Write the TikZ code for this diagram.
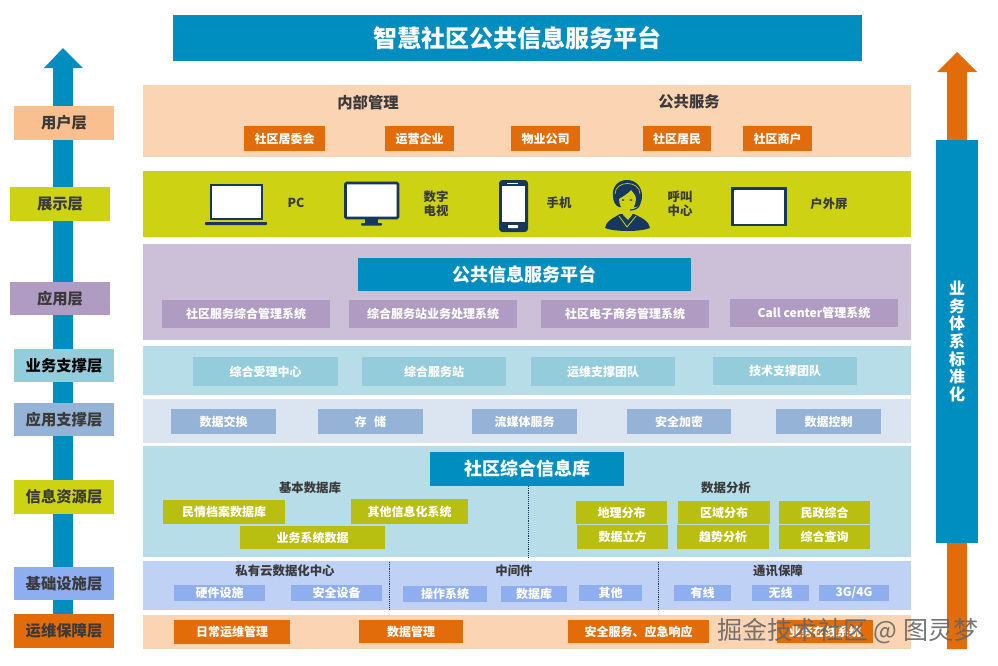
\documentclass[tikz,border=0pt]{standalone}
\usepackage{fontspec}
\setmainfont{Noto Sans CJK SC}
\usepackage{tikz}
\definecolor{titleblue}{HTML}{008DC0}
\definecolor{orangebox}{HTML}{E36C0A}
\definecolor{peachband}{HTML}{FBD4B4}
\definecolor{peachtag}{HTML}{FABF8F}
\definecolor{limeband}{HTML}{CDD313}
\definecolor{limebox}{HTML}{B8BF10}
\definecolor{lilacband}{HTML}{CCC0D9}
\definecolor{lilacbox}{HTML}{B09CC3}
\definecolor{tealband}{HTML}{B7DEE8}
\definecolor{tealbox}{HTML}{94CCDC}
\definecolor{paleband}{HTML}{DBE5F1}
\definecolor{steelbox}{HTML}{95B3D7}
\definecolor{skyband}{HTML}{C0D1F6}
\definecolor{skybox}{HTML}{8FAEF0}
\definecolor{navy}{HTML}{17375E}
\definecolor{inktext}{HTML}{3A3A3A}
\newcommand{\bx}[7][]{\node[#2,minimum width=#5*0.75pt-#4*0.75pt,minimum height=#7*0.75pt-#6*0.75pt,#1] at ({(#4+#5)/2},{(#6+#7)/2}) {#3};}
\begin{document}
\begin{tikzpicture}[
        x=0.75pt,y=-0.75pt,
        band/.style={draw=none,inner sep=0pt,outer sep=0pt},
        tag/.style={band,font=\bfseries\fontsize{11.5pt}{12pt}\selectfont,text=inktext},
        sub/.style={band,font=\bfseries\fontsize{9pt}{10pt}\selectfont,text=white},
        head/.style={inner sep=0pt,font=\bfseries\fontsize{9.3pt}{10pt}\selectfont,text=inktext},
        icon/.style={inner sep=0pt,font=\bfseries\fontsize{9.3pt}{10.5pt}\selectfont,text=inktext},
        sep/.style={densely dotted,draw=navy,thin},
        screen/.style={draw=navy,line width=1.9pt,fill=white}
      ]
      \useasboundingbox (0,0) rectangle (998,665);
      % Rising arrows
      \fill[titleblue] (53,614) -- (53,68) -- (44,68) -- (63,48) -- (83,68) -- (73,68) -- (73,614) -- cycle;
      \fill[orangebox] (947,649) -- (947,72) -- (937,72) -- (957,52) -- (977,72) -- (967,72) -- (967,649) -- cycle;
      % Title
      \bx[font=\bfseries\fontsize{18pt}{19pt}\selectfont,text=white]{band,fill=titleblue}{智慧社区公共信息服务平台}{173}{862}{15}{61}
      % Layer names
      \bx{tag,fill=peachtag}{用户层}{14}{114}{106}{140}
      \bx{tag,fill=limeband}{展示层}{10}{110}{187}{221}
      \bx{tag,fill=lilacbox}{应用层}{10}{110}{282}{315}
      \bx[text=black]{tag,fill=tealbox}{业务支撑层}{14}{114}{349}{382}
      \bx{tag,fill=steelbox}{应用支撑层}{14}{114}{403}{436}
      \bx{tag,fill=limeband}{信息资源层}{14}{114}{480}{514}
      \bx{tag,fill=skybox}{基础设施层}{14}{114}{567}{600}
      \bx{tag,fill=orangebox}{运维保障层}{14}{114}{614}{648}
      % Bands
      \bx{band,fill=peachband}{}{143}{911}{85}{157}
      \bx{band,fill=limeband}{}{143}{911}{171}{237}
      \bx{band,fill=lilacband}{}{143}{911}{244}{340}
      \bx{band,fill=tealband}{}{143}{911}{346}{395}
      \bx{band,fill=paleband}{}{143}{911}{399}{443}
      \bx{band,fill=tealband}{}{143}{911}{446}{557}
      \bx{band,fill=skyband}{}{143}{911}{561}{610}
      \bx{band,fill=peachband}{}{143}{911}{615}{649}
      % User layer
      \node[head,font=\bfseries\fontsize{11.5pt}{12pt}\selectfont] at (368,103) {内部管理};
      \node[head,font=\bfseries\fontsize{11.5pt}{12pt}\selectfont] at (689,102) {公共服务};
      \bx{sub,fill=orangebox}{社区居委会}{244}{325}{126}{151}
      \bx{sub,fill=orangebox}{运营企业}{385}{454}{126}{151}
      \bx{sub,fill=orangebox}{物业公司}{511}{580}{126}{151}
      \bx{sub,fill=orangebox}{社区居民}{643}{711}{126}{151}
      \bx{sub,fill=orangebox}{社区商户}{743}{812}{126}{151}
      % Display layer icons
      \draw[screen] (211,185) rectangle (262,219);
      \fill[navy,rounded corners=0.6pt] (205,222) rectangle (267,225);
      \draw[screen,rounded corners=0.8pt] (345.5,183) rectangle (398,218);
      \fill[navy] (365,219) rectangle (378,223);
      \fill[navy,rounded corners=0.6pt] (361,223) rectangle (382,225.5);
      \fill[navy,rounded corners=2.5pt] (499,180) rectangle (528,232);
      \fill[white] (502,186) rectangle (525,222);
      \fill[white,rounded corners=0.5pt] (508,225) rectangle (518,228);
      \fill[white] (507,183) rectangle (518,184);
      % Operator figure
      \fill[navy] (605,228) .. controls (606,221) and (613,218) .. (620,214) -- (634,214) .. controls (642,218) and (649,221) .. (650,228) .. controls (640,232) and (615,232) .. (605,228) -- cycle;
      \fill[navy] (627,180) .. controls (617,180) and (612,188) .. (613,196) .. controls (613,202) and (616,206) .. (619,207) -- (636,207) .. controls (640,205) and (642,202) .. (642,196) .. controls (642,188) and (637,180) .. (627,180) -- cycle;
      \fill[limeband] (619,199) .. controls (622,197) and (628,194) .. (631,190) .. controls (633,193) and (636,195) .. (636,199) .. controls (636,206) and (631,212) .. (627.5,212) .. controls (623,212) and (619,206) .. (619,199) -- cycle;
      \fill[limeband] (623,209) -- (623,215) -- (628,220) -- (632,215) -- (632,209) -- cycle;
      \draw[limeband,line width=0.5pt] (615,194) .. controls (615,180) and (640,180) .. (640,194);
      \fill[navy] (623,200) ellipse (1.6 and 0.8);
      \fill[navy] (631,200) ellipse (1.6 and 0.8);
      \draw[navy,line width=0.9pt] (640,203) .. controls (639,208) and (635,210) .. (630,210);
      \draw[limeband,line width=0.6pt] (619,216) -- (627,227) -- (636,216);
      \draw[screen] (732.5,188.5) rectangle (785.5,225);
      \node[icon] at (296,203) {PC};
      \node[icon,align=center] at (436,204) {数字\\电视};
      \node[icon] at (559,203) {手机};
      \node[icon,align=center] at (680,204) {呼叫\\中心};
      \node[icon] at (829,204) {户外屏};
      % Application layer
      \bx[font=\bfseries\fontsize{13.5pt}{14pt}\selectfont,text=white]{band,fill=titleblue}{公共信息服务平台}{358}{691}{258}{291}
      \bx{sub,fill=lilacbox}{社区服务综合管理系统}{162}{330}{300}{328}
      \bx{sub,fill=lilacbox}{综合服务站业务处理系统}{349}{517}{300}{328}
      \bx{sub,fill=lilacbox}{社区电子商务管理系统}{541}{709}{300}{328}
      \bx{sub,fill=lilacbox}{Call center管理系统}{730}{898}{299}{327}
      % Business support layer
      \bx{sub,fill=tealbox}{综合受理中心}{193}{338}{357}{386}
      \bx{sub,fill=tealbox}{综合服务站}{362}{506}{357}{386}
      \bx{sub,fill=tealbox}{运维支撑团队}{531}{675}{357}{386}
      \bx{sub,fill=tealbox}{技术支撑团队}{713}{857}{357}{385}
      % Application support layer
      \bx{sub,fill=steelbox}{数据交换}{171}{276}{409}{434}
      \bx{sub,fill=steelbox}{存\hspace{0.6em}储}{318}{423}{409}{434}
      \bx{sub,fill=steelbox}{流媒体服务}{472}{577}{409}{434}
      \bx{sub,fill=steelbox}{安全加密}{627}{731}{409}{434}
      \bx{sub,fill=steelbox}{数据控制}{776}{881}{409}{434}
      % Information resources layer
      \bx[font=\bfseries\fontsize{13.5pt}{14pt}\selectfont,text=white]{band,fill=titleblue}{社区综合信息库}{430}{624}{452}{486}
      \coordinate (infotop) at (528,486);
      \coordinate (infoend) at (528,557);
      \draw[sep] (infotop) -- (infoend);
      \node[head] at (310,488) {基本数据库};
      \node[head] at (726,488) {数据分析};
      \bx{sub,fill=limebox}{民情档案数据库}{163}{285}{500}{524}
      \bx{sub,fill=limebox}{其他信息化系统}{351}{468}{499}{524}
      \bx{sub,fill=limebox}{业务系统数据}{240}{385}{526}{549}
      \bx{sub,fill=limebox}{地理分布}{576}{667}{501}{524}
      \bx{sub,fill=limebox}{区域分布}{678}{770}{501}{524}
      \bx{sub,fill=limebox}{民政综合}{779}{870}{501}{524}
      \bx{sub,fill=limebox}{数据立方}{577}{668}{525}{549}
      \bx{sub,fill=limebox}{趋势分析}{677}{769}{525}{549}
      \bx{sub,fill=limebox}{综合查询}{779}{870}{525}{549}
      % Infrastructure layer
      \coordinate (cloudtop) at (389,562);
      \coordinate (cloudend) at (389,610);
      \coordinate (linktop) at (658,562);
      \coordinate (linkend) at (658,610);
      \draw[sep] (cloudtop) -- (cloudend);
      \draw[sep] (linktop) -- (linkend);
      \node[head] at (285,571) {私有云数据化中心};
      \node[head] at (514,571) {中间件};
      \node[head] at (778,571) {通讯保障};
      \bx{sub,fill=skybox}{硬件设施}{174}{265}{585}{601}
      \bx{sub,fill=skybox}{安全设备}{291}{382}{585}{601}
      \bx{sub,fill=skybox}{操作系统}{403}{487}{586}{602}
      \bx{sub,fill=skybox}{数据库}{501}{567}{586}{602}
      \bx{sub,fill=skybox}{其他}{579}{642}{585}{601}
      \bx{sub,fill=skybox}{有线}{674}{731}{585}{601}
      \bx{sub,fill=skybox}{无线}{752}{809}{585}{601}
      \bx{sub,fill=skybox}{3G/4G}{819}{889}{585}{601}
      % Operations layer
      \bx{sub,fill=orangebox}{日常运维管理}{174}{290}{620}{644}
      \bx{sub,fill=orangebox}{数据管理}{359}{463}{620}{643}
      \bx{sub,fill=orangebox}{安全服务、应急响应}{568}{709}{620}{643}
      \bx{sub,fill=orangebox}{业务在线系统}{777}{873}{620}{643}
      % Standards column
      \bx[font=\bfseries\fontsize{12pt}{13.3pt}\selectfont,text=white,align=center]{band,fill=titleblue}{业\\务\\体\\系\\标\\准\\化}{936}{978}{140}{543}
      % Watermark
      \node[inner sep=0pt,text=black!60,text opacity=0.9,font=\fontsize{18.8pt}{20pt}\selectfont] at (848,631) {掘金技术社区 @ 图灵梦};
    \end{tikzpicture}
\end{document}
